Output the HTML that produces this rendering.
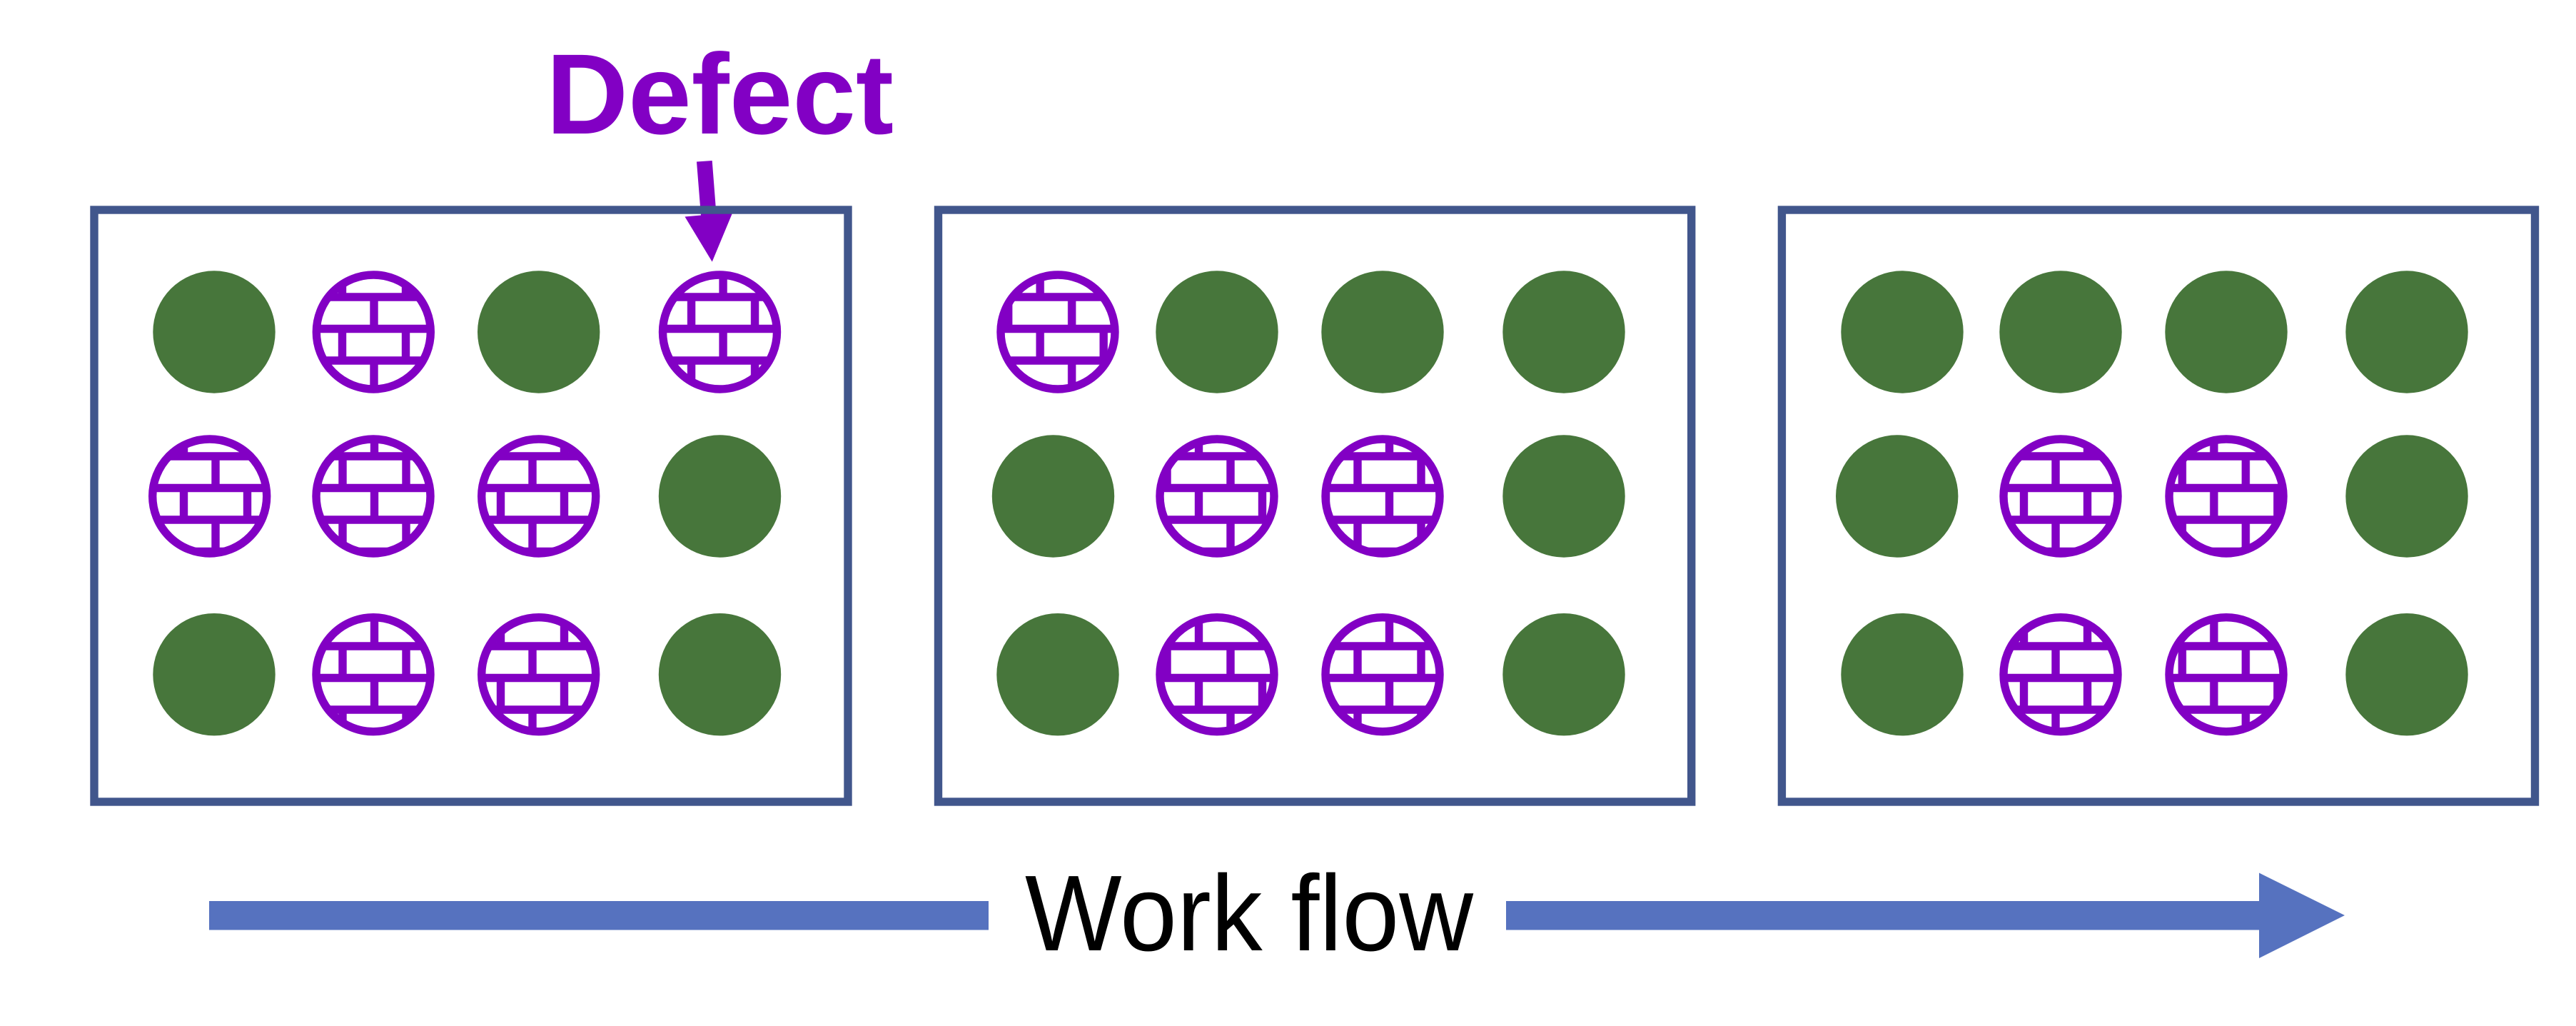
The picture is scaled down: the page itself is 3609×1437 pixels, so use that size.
<!DOCTYPE html>
<html lang="en">
<head>
<meta charset="utf-8">
<title>Defect work flow</title>
<style>
html,body{margin:0;padding:0;background:#fff}
svg{display:block}
</style>
</head>
<body>
<svg xmlns="http://www.w3.org/2000/svg" width="3609" height="1437" viewBox="0 0 3609 1437">
<defs>
<pattern id="b" patternUnits="userSpaceOnUse" width="89" height="89">
<rect width="89" height="89" fill="#fff"/>
<path d="M0 20H89M0 64.5H89M20 20V64.5M64.5 64.5V89M64.5 0V20" stroke="#8200c4" stroke-width="11.4" fill="none"/>
</pattern>
<pattern id="p1" href="#b" x="504" y="396"/>
<pattern id="p2" href="#b" x="948.6" y="396"/>
<pattern id="p3" href="#b" x="282" y="619"/>
<pattern id="p4" href="#b" x="460" y="619"/>
<pattern id="p5" href="#b" x="726" y="619"/>
<pattern id="p6" href="#b" x="460" y="885"/>
<pattern id="p7" href="#b" x="726" y="885"/>
<pattern id="p8" href="#b" x="1481.7" y="396"/>
<pattern id="p9" href="#b" x="1704" y="619"/>
<pattern id="p10" href="#b" x="1882" y="619"/>
<pattern id="p11" href="#b" x="1704" y="885"/>
<pattern id="p12" href="#b" x="1882" y="885"/>
<pattern id="p13" href="#b" x="2860" y="619"/>
<pattern id="p14" href="#b" x="3126.3" y="619"/>
<pattern id="p15" href="#b" x="2860" y="885"/>
<pattern id="p16" href="#b" x="3037.3" y="885"/>
</defs>
<rect width="3609" height="1437" fill="#fff"/>

<text x="765" y="187" font-family="'Liberation Sans',Arial,sans-serif" font-weight="700" font-size="160" fill="#8200c4" textLength="487" lengthAdjust="spacingAndGlyphs">Defect</text>
<polygon points="976,226.5 997.7,225 1003.5,299.5 1026,298.6 997.7,366.6 959.5,303.5 982,301.5" fill="#8200c4"/>

<g fill="none" stroke="#41568c" stroke-width="11.4">
<rect x="132" y="294" width="1056" height="829"/>
<rect x="1314.5" y="294" width="1055.2" height="829"/>
<rect x="2496.4" y="294" width="1055.1" height="829"/>
</g>

<g fill="#47763b">
<circle cx="300" cy="465" r="85.7"/>
<circle cx="754.7" cy="465" r="85.7"/>
<circle cx="1008.5" cy="695" r="85.7"/>
<circle cx="300" cy="944.7" r="85.7"/>
<circle cx="1008.5" cy="944.7" r="85.7"/>
<circle cx="1705" cy="465" r="85.7"/>
<circle cx="1937" cy="465" r="85.7"/>
<circle cx="2191" cy="465" r="85.7"/>
<circle cx="1475.5" cy="695" r="85.7"/>
<circle cx="2191" cy="695" r="85.7"/>
<circle cx="1482" cy="944.7" r="85.7"/>
<circle cx="2191" cy="944.7" r="85.7"/>
<circle cx="2665" cy="465" r="85.7"/>
<circle cx="2887" cy="465" r="85.7"/>
<circle cx="3119" cy="465" r="85.7"/>
<circle cx="3372" cy="465" r="85.7"/>
<circle cx="2657.7" cy="695" r="85.7"/>
<circle cx="3372" cy="695" r="85.7"/>
<circle cx="2665" cy="944.7" r="85.7"/>
<circle cx="3372" cy="944.7" r="85.7"/>
</g>

<g stroke="#8200c4" stroke-width="11.4">
<circle cx="523.3" cy="465" r="80" fill="url(#p1)"/>
<circle cx="1008.5" cy="465" r="80" fill="url(#p2)"/>
<circle cx="293.7" cy="695" r="80" fill="url(#p3)"/>
<circle cx="523" cy="695" r="80" fill="url(#p4)"/>
<circle cx="754.7" cy="695" r="80" fill="url(#p5)"/>
<circle cx="523" cy="944.7" r="80" fill="url(#p6)"/>
<circle cx="754.7" cy="944.7" r="80" fill="url(#p7)"/>
<circle cx="1482" cy="465" r="80" fill="url(#p8)"/>
<circle cx="1705" cy="695" r="80" fill="url(#p9)"/>
<circle cx="1937" cy="695" r="80" fill="url(#p10)"/>
<circle cx="1705" cy="944.7" r="80" fill="url(#p11)"/>
<circle cx="1937" cy="944.7" r="80" fill="url(#p12)"/>
<circle cx="2887" cy="695" r="80" fill="url(#p13)"/>
<circle cx="3119" cy="695" r="80" fill="url(#p14)"/>
<circle cx="2887" cy="944.7" r="80" fill="url(#p15)"/>
<circle cx="3119" cy="944.7" r="80" fill="url(#p16)"/>
</g>

<rect x="293" y="1262" width="1092" height="40.5" fill="#5672bf"/>
<polygon points="2110,1262 3165,1262 3165,1222.5 3285,1282 3165,1342 3165,1302.5 2110,1302.5" fill="#5672bf"/>
<text x="1436" y="1331" font-family="'Liberation Sans',Arial,sans-serif" font-size="151" fill="#000" textLength="628" lengthAdjust="spacingAndGlyphs">Work flow</text>
</svg>
</body>
</html>
